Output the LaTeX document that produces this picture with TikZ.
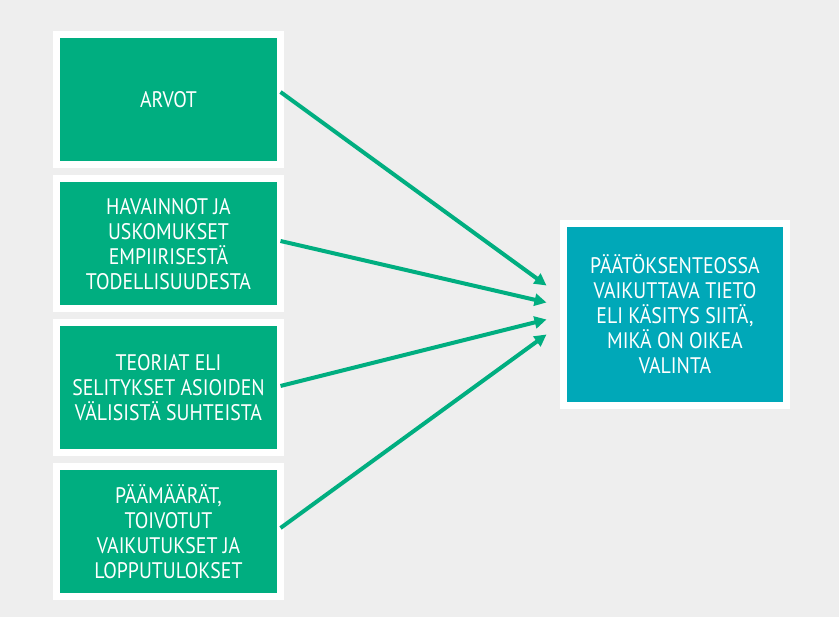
\documentclass[tikz,border=0pt]{standalone}
\usepackage{fontspec}
\setmainfont{PT Sans}[FakeStretch=0.88]
\usetikzlibrary{positioning,arrows.meta}
\definecolor{bggray}{HTML}{EEEEEE}
\definecolor{boxgreen}{HTML}{00AE80}
\definecolor{boxteal}{HTML}{00A8B8}
\tikzset{
  src/.style={rectangle, minimum width=224pt, minimum height=130pt, text centered, align=center, draw=white, line width=7pt, fill=boxgreen, text=white, outer sep=0pt, font=\fontsize{22.5}{25}\selectfont},
  tgt/.style={rectangle, minimum width=223pt, minimum height=182pt, text centered, align=center, draw=white, line width=7pt, fill=boxteal, text=white, outer sep=0pt, font=\fontsize{22.5}{25}\selectfont},
  brush/.style={draw=boxgreen, line width=4pt, -{Triangle[length=12pt,width=12pt]}},
  node distance=14pt
}
\begin{document}
\begin{tikzpicture}[x=1pt, y=-1pt]
	\fill[bggray] (0,0) rectangle (839,617);
	\useasboundingbox (0,0) rectangle (839,617);
	\node[src] (arvot) at (168.5,100) {ARVOT};
	\node[src, below=of arvot] (havainnot) {HAVAINNOT JA\\USKOMUKSET\\EMPIIRISESTÄ\\TODELLISUUDESTA};
	\node[src, below=of havainnot] (teoriat) {TEORIAT ELI\\SELITYKSET ASIOIDEN\\VÄLISISTÄ SUHTEISTA};
	\node[src, below=of teoriat] (paamaarat) {PÄÄMÄÄRÄT,\\TOIVOTUT\\VAIKUTUKSET JA\\LOPPUTULOKSET};
	\node[tgt] (tieto) at (675,314.5) {PÄÄTÖKSENTEOSSA\\VAIKUTTAVA TIETO\\ELI KÄSITYS SIITÄ,\\MIKÄ ON OIKEA\\VALINTA};
	%
	\coordinate (inA) at ([xshift=-17pt, yshift=29pt]tieto.west);
	\coordinate (inB) at ([xshift=-17pt, yshift=12pt]tieto.west);
	\coordinate (inC) at ([xshift=-17pt, yshift=-5pt]tieto.west);
	\coordinate (inD) at ([xshift=-17pt, yshift=-20pt]tieto.west);
	%
	\draw[brush] ([yshift=8pt]arvot.east) -- (inA);
	\draw[brush] ([yshift=3pt]havainnot.east) -- (inB);
	\draw[brush] ([yshift=2pt]teoriat.east) -- (inC);
	\draw[brush] ([yshift=4pt]paamaarat.east) -- (inD);
\end{tikzpicture}
\end{document}
